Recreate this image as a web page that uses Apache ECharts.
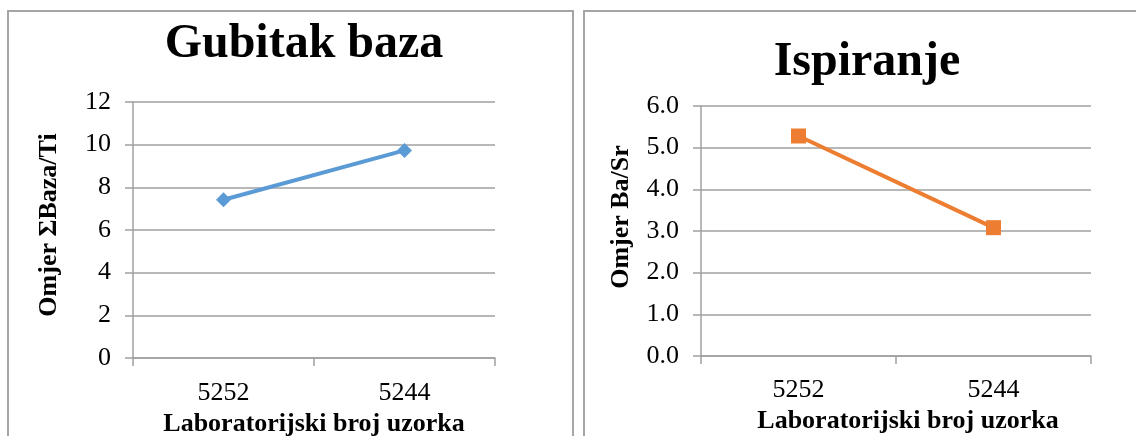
<!DOCTYPE html>
<html>
<head>
<meta charset="utf-8">
<script src="https://cdn.jsdelivr.net/npm/echarts@6/dist/echarts.min.js"></script>
<style>
html,body{margin:0;padding:0;background:#fff;}
#c{width:1136px;height:436px;}
</style>
</head>
<body>
<div id="c"></div>
<script>
// ---- data ----
const categories = ['5252', '5244'];
const baseLossValues = [7.42, 9.73];     // Gubitak baza: Omjer ΣBaza/Ti
const leachingValues = [5.28, 3.08];     // Ispiranje: Omjer Ba/Sr
const leftTicks = [0, 2, 4, 6, 8, 10, 12];
const rightTicks = ['0.0', '1.0', '2.0', '3.0', '4.0', '5.0', '6.0'];
const titles = ['Gubitak baza', 'Ispiranje'];
const yNames = ['Omjer ΣBaza/Ti', 'Omjer Ba/Sr'];
const xName = 'Laboratorijski broj uzorka';

const FONT = "'Liberation Serif', 'Times New Roman', serif";
const GRID_C = '#A0A0A0';

const chart = echarts.init(document.getElementById('c'), null, {renderer: 'canvas'});

function xAxisCfg(idx, labelMargin, gap, pad) {
  return {
    type: 'category', gridIndex: idx, data: categories, boundaryGap: true,
    axisLine: {show: true, lineStyle: {color: GRID_C, width: 1.5}},
    axisTick: {show: true, length: 8, interval: 0, lineStyle: {color: GRID_C, width: 1.5}},
    axisLabel: {color: '#000', fontFamily: FONT, fontSize: 26, margin: labelMargin},
    name: xName, nameLocation: 'middle', nameGap: gap,
    nameTextStyle: {color: '#000', fontFamily: FONT, fontSize: 26, fontWeight: 'bold', padding: pad}
  };
}
function yAxisCfg(idx, max, interval, fmt, gap, pad) {
  return {
    type: 'value', gridIndex: idx, min: 0, max: max, interval: interval,
    axisLine: {show: true, lineStyle: {color: GRID_C, width: 1.5}},
    axisTick: {show: true, length: 8, lineStyle: {color: GRID_C, width: 1.5}},
    splitLine: {show: true, lineStyle: {color: GRID_C, width: 1.5}},
    axisLabel: {color: '#000', fontFamily: FONT, fontSize: 26, margin: 22, formatter: fmt},
    name: yNames[idx], nameLocation: 'middle', nameGap: gap, nameRotate: 90,
    nameTextStyle: {color: '#000', fontFamily: FONT, fontSize: 26, fontWeight: 'bold', padding: pad}
  };
}

chart.setOption({
  animation: false,
  backgroundColor: '#fff',
  title: [
    {text: titles[0], left: 299, top: 16, textAlign: 'center',
     textStyle: {fontFamily: FONT, fontSize: 48, fontWeight: 'bold', color: '#000'}},
    {text: titles[1], left: 862, top: 34, textAlign: 'center',
     textStyle: {fontFamily: FONT, fontSize: 48, fontWeight: 'bold', color: '#000'}}
  ],
  graphic: [
    {type: 'rect', shape: {x: 8, y: 11, width: 565, height: 500}, silent: true,
     style: {fill: 'none', stroke: '#A6A6A6', lineWidth: 2}},
    {type: 'rect', shape: {x: 584, y: 11, width: 600, height: 500}, silent: true,
     style: {fill: 'none', stroke: '#A6A6A6', lineWidth: 2}}
  ],
  grid: [
    {left: 133, top: 102, width: 362, height: 256, containLabel: false, outerBoundsMode: 'none'},
    {left: 701, top: 106, width: 390, height: 250, containLabel: false, outerBoundsMode: 'none'}
  ],
  xAxis: [xAxisCfg(0, 22, 52, [0, 0, 0, 0]), xAxisCfg(1, 21, 48, [0, 0, 0, 24])],
  yAxis: [
    yAxisCfg(0, leftTicks[leftTicks.length - 1], leftTicks[1] - leftTicks[0], v => String(v), 71, [0, 0, 0, 10]),
    yAxisCfg(1, parseFloat(rightTicks[rightTicks.length - 1]), 1, v => v.toFixed(1), 67, [0, 0, 0, 28])
  ],
  series: [
    {type: 'line', xAxisIndex: 0, yAxisIndex: 0, data: baseLossValues,
     symbol: 'diamond', symbolSize: 15,
     lineStyle: {color: '#5B9BD5', width: 4},
     itemStyle: {color: '#5B9BD5'}},
    {type: 'line', xAxisIndex: 1, yAxisIndex: 1, data: leachingValues,
     symbol: 'rect', symbolSize: 15,
     lineStyle: {color: '#ED7D31', width: 4},
     itemStyle: {color: '#ED7D31'}}
  ]
});
</script>
</body>
</html>
